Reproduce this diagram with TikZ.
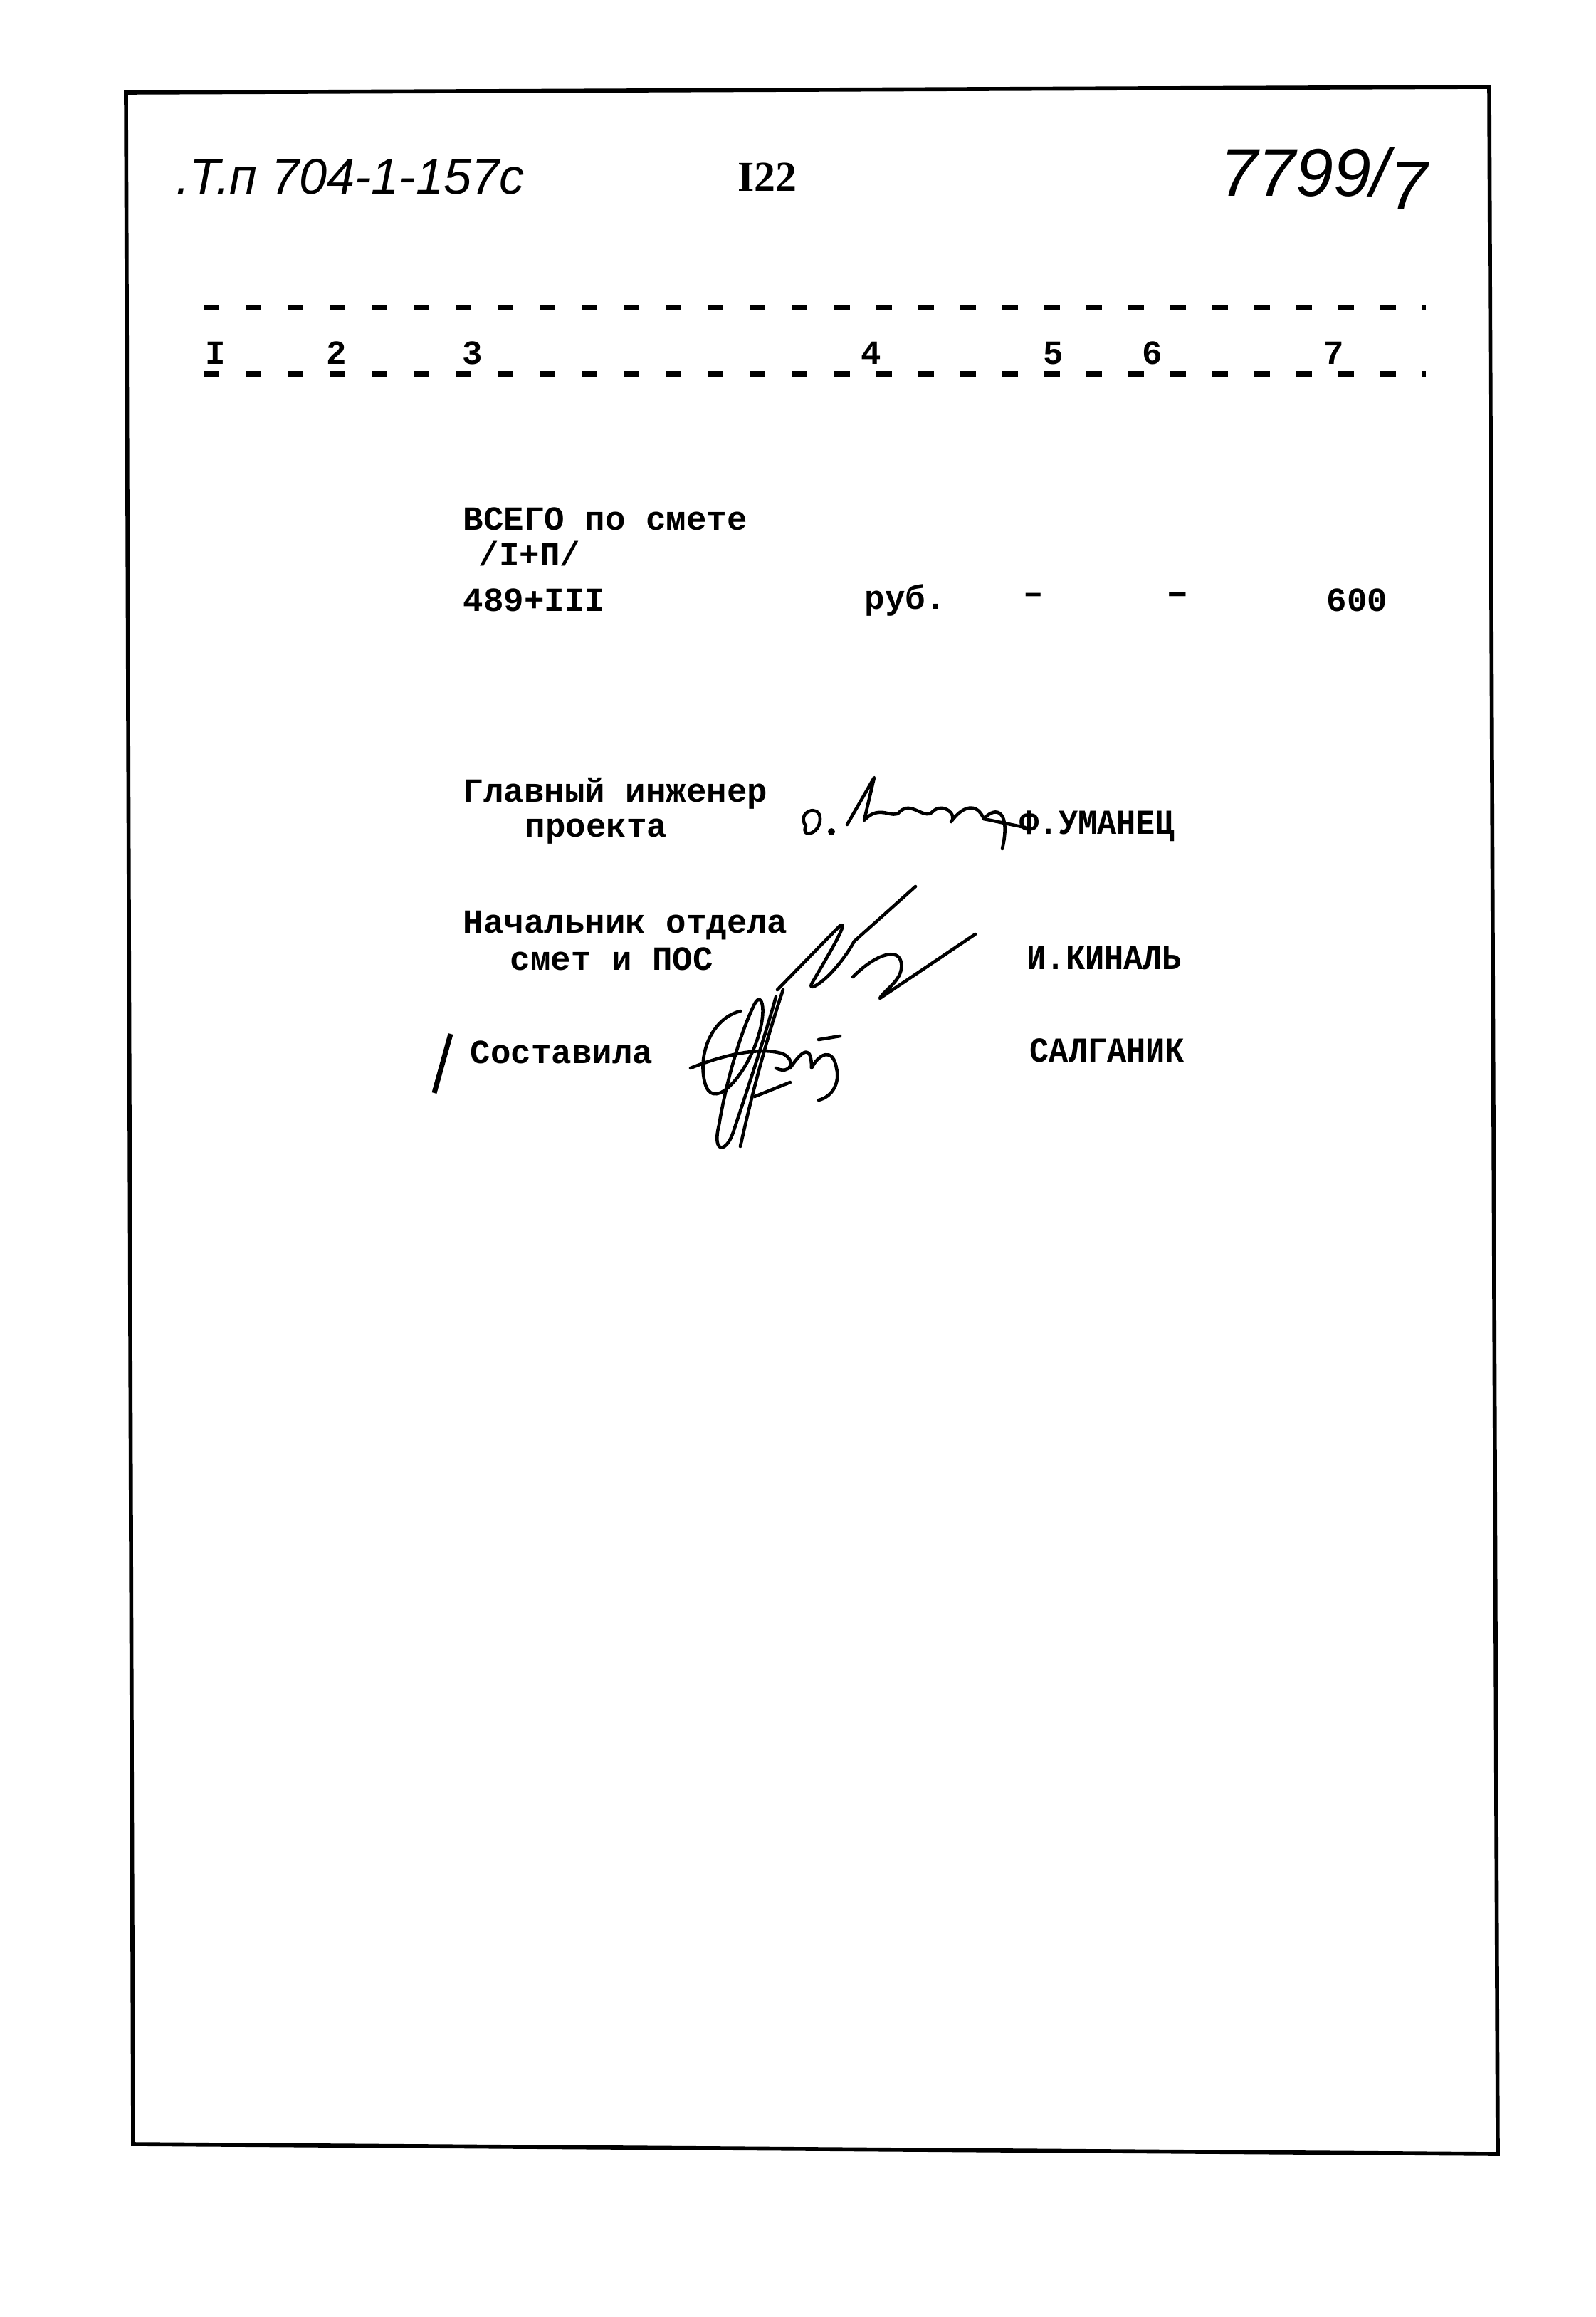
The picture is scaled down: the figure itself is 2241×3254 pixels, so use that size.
\documentclass[tikz,border=0pt]{standalone}
\usepackage{fontspec}
\setmainfont{Liberation Serif}
\setmonofont{Liberation Mono}
\newfontfamily\handfont{Liberation Sans}
\newfontfamily\namefont[FakeStretch=0.92]{Liberation Mono}

\tikzset{
  typed/.style={font=\ttfamily\bfseries\fontsize{13.5}{15}\selectfont, inner sep=0pt, anchor=west},
  heavy/.style={typed, font=\namefont\bfseries\fontsize{14}{15}\selectfont},
  hand/.style={font=\handfont\itshape\fontsize{20}{22}\selectfont, inner sep=0pt},
  rule/.style={line width=2.2pt, dash pattern=on 0.22cm off 0.37cm},
  frame/.style={line width=1.6pt, line join=miter},
  signature/.style={line width=1.3pt, line cap=round, line join=round},
}

\begin{document}
\begin{tikzpicture}[x=0.01cm,y=-0.01cm]
\useasboundingbox (0,0) rectangle (2241,3254);

% Frame
\draw [frame] (177,130) -- (2092,122) -- (2104,3025) -- (187,3011) -- cycle;

% Node: header
\node [hand] (code) at (492,248) {.Т.п 704-1-157с};
\node [font=\bfseries\fontsize{17}{18}\selectfont, inner sep=0pt] (page) at (1078,249) {I22};
\node [hand, font=\handfont\itshape\fontsize{27}{28}\selectfont] (inv) at (1860,250) {7799/\raisebox{-0.35ex}{7}};

% Edge: column rules
\coordinate (r1a) at (286,432);
\coordinate (r1b) at (2003,432);
\coordinate (r2a) at (286,525);
\coordinate (r2b) at (2003,525);
\draw [rule] (r1a) -- (r1b);
\draw [rule] (r2a) -- (r2b);

% Node: column numbers
\foreach \num/\xpos in {I/303,2/473,3/664,4/1224,5/1480,6/1619,7/1874}
  \node [typed, anchor=center] (col\num) at (\xpos,496) {\num};

% Node: total
\node [typed] (total) at (650,729) {ВСЕГО по смете};
\node [typed] (parts) at (672,778) {/I+П/};
\node [typed] (sum) at (650,843) {489+III};
\node [typed] (unit) at (1214,843) {руб.};
\node [typed, anchor=center] (dasha) at (1452,840) {–};
\node [typed, anchor=center, font=\ttfamily\bfseries\fontsize{15}{15}\selectfont] (dashb) at (1654,840) {–};
\node [typed] (qty) at (1863,843) {600};

% Node: signatures block
\node [typed] (chief) at (650,1114) {Главный инженер};
\node [typed] (chiefb) at (737,1168) {проекта};
\node [heavy] (chiefname) at (1432,1160) {Ф.УМАНЕЦ};

\node [typed] (head) at (650,1300) {Начальник отдела};
\node [typed] (headb) at (716,1347) {смет и ПОС};
\node [heavy] (headname) at (1442,1345) {И.КИНАЛЬ};

\node [typed] (made) at (660,1478) {Составила};
\node [heavy] (madename) at (1446,1475) {САЛГАНИК};
\draw [line width=2pt] (610,1535) -- (633,1452);

% signature 1
\draw [signature] (1132,1160) .. controls (1118,1140) and (1152,1128) .. (1152,1150) .. controls (1152,1172) and (1124,1178) .. (1132,1160);
\fill (1168,1168) circle (5);
\draw [signature] (1190,1158) -- (1228,1092) -- (1214,1152) .. controls (1236,1128) and (1254,1152) .. (1264,1140)
  .. controls (1280,1124) and (1298,1152) .. (1310,1140) .. controls (1324,1126) and (1346,1144) .. (1336,1154)
  .. controls (1352,1132) and (1372,1126) .. (1382,1150) -- (1440,1162);
\draw [signature] (1382,1150) .. controls (1400,1130) and (1420,1140) .. (1408,1192);

% signature 2
\draw [signature] (1092,1390) -- (1180,1300) .. controls (1196,1290) and (1152,1360) .. (1140,1382)
  .. controls (1134,1396) and (1172,1372) .. (1200,1322) -- (1286,1245);
\draw [signature] (1198,1372) .. controls (1230,1340) and (1262,1330) .. (1266,1352)
  .. controls (1270,1376) and (1242,1390) .. (1236,1402) -- (1370,1312);

% signature 3
\draw [signature] (1040,1420) .. controls (1000,1430) and (980,1480) .. (990,1520)
  .. controls (1000,1560) and (1040,1520) .. (1060,1470) .. controls (1080,1420) and (1070,1390) .. (1060,1410)
  .. controls (1040,1450) and (1020,1520) .. (1010,1580) .. controls (1000,1620) and (1020,1620) .. (1030,1590)
  .. controls (1050,1530) and (1070,1470) .. (1090,1400);
\draw [signature] (1100,1390) .. controls (1080,1450) and (1060,1520) .. (1040,1610);
\draw [signature] (970,1500) .. controls (1020,1480) and (1070,1470) .. (1100,1480)
  .. controls (1120,1490) and (1110,1510) .. (1090,1500);
\draw [signature] (1110,1500) .. controls (1130,1470) and (1140,1470) .. (1140,1500)
  .. controls (1150,1480) and (1170,1470) .. (1175,1500) .. controls (1180,1520) and (1170,1540) .. (1150,1545);
\draw [signature] (1060,1540) -- (1110,1520);
\draw [signature] (1150,1460) -- (1180,1455);

\end{tikzpicture}
\end{document}
